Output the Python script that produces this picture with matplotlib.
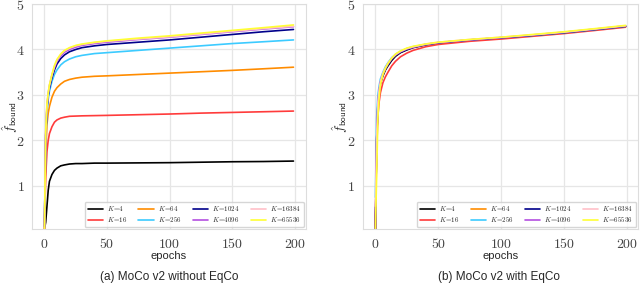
import matplotlib
matplotlib.use("Agg")
import matplotlib.pyplot as plt
import seaborn as sns
from matplotlib.ticker import FuncFormatter

sns.set_style("whitegrid")
plt.rcParams["mathtext.fontset"] = "cm"
plt.rcParams["font.family"] = ["Liberation Sans", "DejaVu Sans"]

epochs = [0, 1, 2, 3, 4, 6, 8, 10, 13, 16, 20, 25, 30, 40, 50, 75, 100, 125, 150, 175, 199]

queue_sizes = [4, 16, 64, 256, 1024, 4096, 16384, 65536]
colors = ["black", "#ff3b3b", "darkorange", "#3ccbff", "darkblue", "#b44fe0", "#ffc0c8", "#ffff33"]

# (a) without EqCo
a_k4 = [0.05, 0.2, 0.55, 0.9, 1.1, 1.25, 1.34, 1.39, 1.44, 1.46, 1.48, 1.49, 1.49, 1.5, 1.5, 1.505, 1.51, 1.52, 1.53, 1.535, 1.545]
a_k16 = [0.05, 1.2, 1.75, 2.0, 2.15, 2.3, 2.4, 2.45, 2.49, 2.51, 2.53, 2.535, 2.54, 2.545, 2.55, 2.565, 2.58, 2.6, 2.615, 2.63, 2.645]
a_k64 = [0.05, 1.7, 2.35, 2.6, 2.75, 2.95, 3.08, 3.16, 3.24, 3.3, 3.34, 3.37, 3.39, 3.41, 3.42, 3.45, 3.48, 3.51, 3.54, 3.575, 3.61]
a_k256 = [0.1, 2.0, 2.6, 2.9, 3.08, 3.3, 3.45, 3.55, 3.66, 3.73, 3.79, 3.84, 3.87, 3.91, 3.93, 3.98, 4.03, 4.08, 4.13, 4.17, 4.21]
a_k1024 = [0.1, 2.1, 2.7, 2.98, 3.15, 3.38, 3.55, 3.68, 3.8, 3.88, 3.95, 4.0, 4.04, 4.08, 4.11, 4.16, 4.21, 4.27, 4.33, 4.39, 4.44]
a_k4096 = [0.05, 2.15, 2.75, 3.02, 3.2, 3.43, 3.6, 3.74, 3.86, 3.94, 4.0, 4.05, 4.09, 4.13, 4.16, 4.22, 4.27, 4.33, 4.39, 4.45, 4.5]
a_k16384 = [0.05, 2.2, 2.78, 3.04, 3.22, 3.45, 3.63, 3.77, 3.89, 3.97, 4.03, 4.08, 4.11, 4.15, 4.18, 4.23, 4.28, 4.34, 4.4, 4.46, 4.51]
a_k65536 = [0.05, 2.2, 2.8, 3.05, 3.22, 3.45, 3.65, 3.78, 3.9, 3.98, 4.04, 4.09, 4.12, 4.16, 4.19, 4.25, 4.3, 4.36, 4.42, 4.48, 4.54]

# (b) with EqCo
b_k4 = [0.05, 2.0, 2.75, 3.05, 3.25, 3.42, 3.55, 3.64, 3.76, 3.85, 3.93, 3.99, 4.04, 4.1, 4.14, 4.2, 4.25, 4.31, 4.37, 4.44, 4.51]
b_k16 = [0.05, 1.8, 2.55, 2.85, 3.05, 3.27, 3.4, 3.5, 3.64, 3.74, 3.84, 3.92, 3.98, 4.06, 4.11, 4.18, 4.23, 4.29, 4.35, 4.42, 4.49]
b_k64 = [0.05, 2.0, 2.78, 3.08, 3.27, 3.45, 3.57, 3.67, 3.79, 3.87, 3.95, 4.01, 4.05, 4.11, 4.15, 4.21, 4.26, 4.31, 4.37, 4.44, 4.51]
b_k256 = [0.75, 2.5, 3.0, 3.2, 3.35, 3.5, 3.62, 3.71, 3.82, 3.89, 3.96, 4.02, 4.06, 4.11, 4.15, 4.21, 4.26, 4.31, 4.37, 4.44, 4.51]
b_k1024 = [0.05, 2.0, 2.78, 3.08, 3.27, 3.45, 3.57, 3.66, 3.78, 3.87, 3.94, 4.0, 4.05, 4.11, 4.15, 4.21, 4.26, 4.31, 4.37, 4.44, 4.51]
b_k4096 = [0.05, 2.0, 2.8, 3.1, 3.28, 3.46, 3.58, 3.68, 3.8, 3.88, 3.95, 4.01, 4.05, 4.11, 4.15, 4.21, 4.26, 4.32, 4.38, 4.45, 4.52]
b_k16384 = [0.55, 2.1, 2.85, 3.12, 3.3, 3.48, 3.6, 3.7, 3.81, 3.89, 3.96, 4.02, 4.06, 4.12, 4.16, 4.22, 4.27, 4.32, 4.38, 4.45, 4.52]
b_k65536 = [0.05, 1.2, 2.5, 2.95, 3.22, 3.45, 3.59, 3.69, 3.81, 3.9, 3.97, 4.03, 4.07, 4.12, 4.16, 4.22, 4.27, 4.33, 4.39, 4.46, 4.53]

series_a = [a_k4, a_k16, a_k64, a_k256, a_k1024, a_k4096, a_k16384, a_k65536]
series_b = [b_k4, b_k16, b_k64, b_k256, b_k1024, b_k4096, b_k16384, b_k65536]

fig = plt.figure(figsize=(6.4, 2.87), dpi=100)
ax_a = fig.add_axes([0.05, 0.202, 0.428, 0.784])
ax_b = fig.add_axes([0.567, 0.202, 0.430, 0.784])

tick_fmt = FuncFormatter(lambda v, p: f"${v:g}$")

for ax, series, caption, cx in [(ax_a, series_a, "(a) MoCo v2 without EqCo", 0.265),
                                (ax_b, series_b, "(b) MoCo v2 with EqCo", 0.78)]:
    for k, vals, c in zip(queue_sizes, series, colors):
        ax.plot(epochs, vals, color=c, lw=1.2, label=rf"$K\!=\!{k}$")
    ax.set_ylim(0.05, 5.0)
    ax.set_xticks([0, 50, 100, 150, 200])
    ax.set_yticks([1, 2, 3, 4, 5])
    ax.xaxis.set_major_formatter(tick_fmt)
    ax.yaxis.set_major_formatter(tick_fmt)
    ax.tick_params(labelsize=10, colors="#444444", pad=2)
    ax.set_xlabel("epochs", fontsize=8, labelpad=0)
    ax.set_ylabel(r"$\hat{f}_{\mathsf{bound}}$", fontsize=9.5)
    ax.yaxis.set_label_coords(-0.045, 0.5)
    for s in ax.spines.values():
        s.set_color("#dddddd")
    ax.grid(color="#e6e6e6", lw=0.9)
    leg = ax.legend(loc="lower right", ncol=4, fontsize=5, handlelength=2.2,
                    columnspacing=1.6, labelspacing=0.25, borderpad=0.4,
                    handletextpad=0.6, frameon=True, fancybox=True, borderaxespad=0.3)
    fig.text(cx, 0.025, caption, ha="center", fontsize=8.5)

fig.savefig("out.png", dpi=100)
